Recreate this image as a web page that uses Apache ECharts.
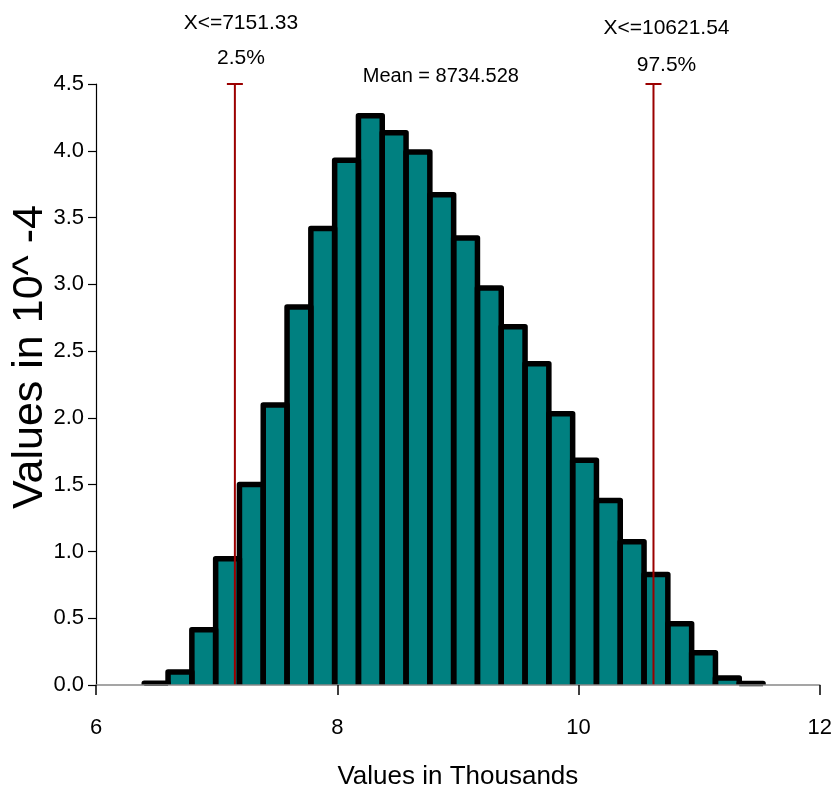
<!DOCTYPE html>
<html>
<head>
    <meta charset="utf-8" />
    <title>Distribution</title>
    <style>
        html, body { margin: 0; padding: 0; background: #fff; }
    </style>
</head>
<body>

    <div id="divChart" style="width:835px;height:798px;"></div>

    <script src="https://cdn.jsdelivr.net/npm/echarts@6/dist/echarts.min.js"></script>
    <script>
        // histogram bins (x in thousands), heights in 10^-4
        var binStart = 6.40;
        var binWidth = 0.1973;
        var density = [0.013, 0.097, 0.414, 0.945, 1.501, 2.096, 2.83, 3.418, 3.93, 4.263,
                       4.135, 3.991, 3.671, 3.347, 2.973, 2.682, 2.405, 2.031, 1.682, 1.382,
                       1.073, 0.827, 0.459, 0.241, 0.052, 0.012];

        // percentile markers
        var markerX = [7.15133, 10.62154];
        var markerText = ['X<=7151.33', 'X<=10621.54'];
        var markerProb = ['2.5%', '97.5%'];
        var meanX = 8.734528;
        var meanText = 'Mean = 8734.528';

        var xTicks = [6, 8, 10, 12];
        var yMax = 4.5;

        // label offsets in pixels (x from line, y from line top)
        var markerLayout = [
            { dx: 6, y1: -61, y2: -26 },
            { dx: 13, y1: -56, y2: -19 }
        ];

        var FONT = "'Liberation Sans', Arial, sans-serif";

        var bins = density.map(function (d, i) {
            return [binStart + i * binWidth, binStart + (i + 1) * binWidth, d];
        });

        var myChart = echarts.init(document.getElementById('divChart'), null, { renderer: 'canvas' });

        var option = {
            animation: false,
            backgroundColor: '#fff',
            grid: { left: 96, right: 15, top: 84, bottom: 113, containLabel: false },
            xAxis: {
                type: 'value',
                min: xTicks[0],
                max: xTicks[xTicks.length - 1],
                interval: 2,
                z: 5,
                name: 'Values in Thousands',
                nameLocation: 'middle',
                nameGap: 79,
                nameTextStyle: { fontFamily: FONT, fontSize: 26, color: '#000' },
                axisLine: { show: true, onZero: false, lineStyle: { color: '#888', width: 1.5 } },
                axisTick: { show: true, inside: false, length: 10, lineStyle: { color: '#000', width: 1.5 } },
                axisLabel: { margin: 32, fontFamily: FONT, fontSize: 22, color: '#000' },
                splitLine: { show: false }
            },
            yAxis: {
                type: 'value',
                min: 0,
                max: yMax,
                interval: 0.5,
                z: 5,
                axisLine: { show: true, lineStyle: { color: '#000', width: 1.2 } },
                axisTick: { show: true, inside: false, length: 8, lineStyle: { color: '#000', width: 1.2 } },
                axisLabel: {
                    margin: 12, fontFamily: FONT, fontSize: 22, color: '#000',
                    formatter: function (v) { return v.toFixed(1); }
                },
                splitLine: { show: false }
            },
            graphic: [{
                type: 'text',
                x: 30,
                y: 357,
                rotation: Math.PI / 2,
                style: {
                    text: 'Values in 10^ -4',
                    font: '43px ' + FONT,
                    fill: '#000',
                    textAlign: 'center',
                    textVerticalAlign: 'middle'
                }
            }],
            series: [
                {
                    type: 'custom',
                    name: 'histogram',
                    z: 2,
                    encode: { x: [0, 1], y: 2 },
                    data: bins,
                    renderItem: function (params, api) {
                        var p0 = api.coord([api.value(0), 0]);
                        var p1 = api.coord([api.value(1), api.value(2)]);
                        return {
                            type: 'group',
                            children: [
                                {
                                    type: 'rect',
                                    z2: 0,
                                    shape: { x: p0[0], y: p1[1], width: p1[0] - p0[0], height: p0[1] - p1[1] },
                                    style: { fill: '#008080' }
                                },
                                {
                                    type: 'polyline',
                                    z2: 10,
                                    shape: { points: [[p0[0], p0[1]], [p0[0], p1[1]], [p1[0], p1[1]], [p1[0], p0[1]]] },
                                    style: { stroke: '#000', lineWidth: 5.5, fill: null, lineJoin: 'round' }
                                }
                            ]
                        };
                    }
                },
                {
                    type: 'custom',
                    name: 'percentiles',
                    z: 4,
                    encode: { x: 0 },
                    data: markerX.map(function (x, i) { return [x, i]; }),
                    renderItem: function (params, api) {
                        var i = api.value(1);
                        var base = api.coord([api.value(0), 0]);
                        var top = api.coord([api.value(0), yMax]);
                        var lay = markerLayout[i];
                        return {
                            type: 'group',
                            children: [
                                {
                                    type: 'line',
                                    shape: { x1: base[0], y1: base[1], x2: top[0], y2: top[1] },
                                    style: { stroke: '#9b0000', lineWidth: 2 }
                                },
                                {
                                    type: 'line',
                                    shape: { x1: top[0] - 8, y1: top[1], x2: top[0] + 8, y2: top[1] },
                                    style: { stroke: '#9b0000', lineWidth: 2 }
                                },
                                {
                                    type: 'text',
                                    x: top[0] + lay.dx,
                                    y: top[1] + lay.y1,
                                    style: { text: markerText[i], font: '21px ' + FONT, fill: '#000', textAlign: 'center', textVerticalAlign: 'middle' }
                                },
                                {
                                    type: 'text',
                                    x: top[0] + lay.dx,
                                    y: top[1] + lay.y2,
                                    style: { text: markerProb[i], font: '21px ' + FONT, fill: '#000', textAlign: 'center', textVerticalAlign: 'middle' }
                                }
                            ]
                        };
                    }
                },
                {
                    type: 'custom',
                    name: 'mean',
                    z: 4,
                    encode: { x: 0 },
                    data: [[meanX]],
                    renderItem: function (params, api) {
                        var top = api.coord([api.value(0), yMax]);
                        return {
                            type: 'text',
                            x: top[0] + 15,
                            y: top[1] - 8,
                            style: { text: meanText, font: '20px ' + FONT, fill: '#000', textAlign: 'center', textVerticalAlign: 'middle' }
                        };
                    }
                }
            ]
        };
        myChart.setOption(option);
    </script>
</body>
</html>
